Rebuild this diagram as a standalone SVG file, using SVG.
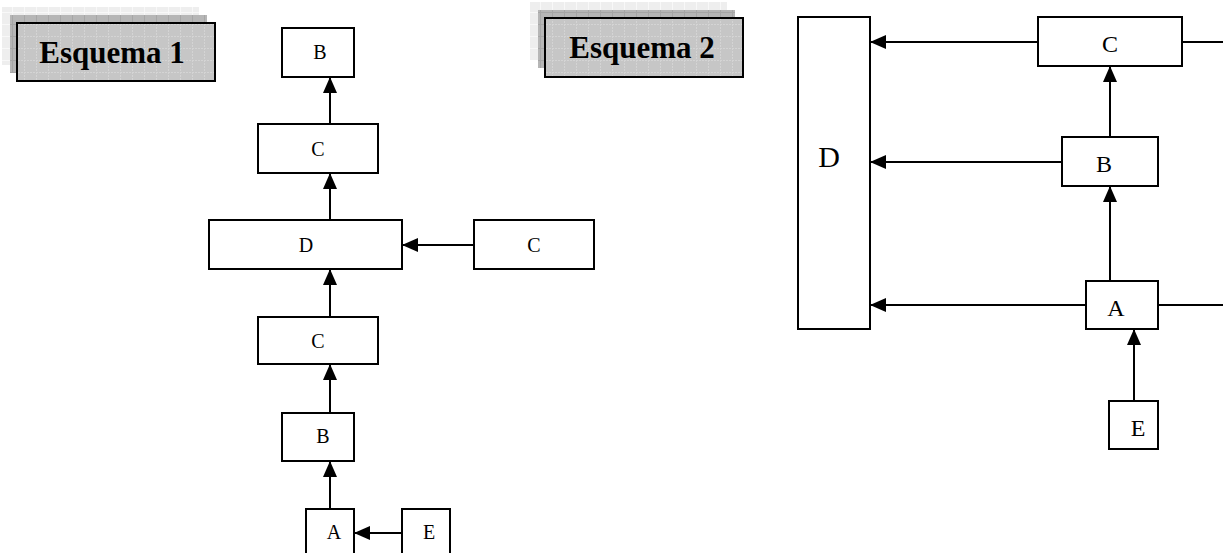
<svg xmlns="http://www.w3.org/2000/svg" width="1223" height="553" viewBox="0 0 1223 553">
<style>
.box{fill:#fff;stroke:#000;stroke-width:2}
.t1{font-family:"Liberation Serif","Times New Roman",serif;font-size:20px;text-anchor:middle;fill:#000}
.t2{font-family:"Liberation Serif","Times New Roman",serif;font-size:24px;text-anchor:middle;fill:#000}
.tD{font-family:"Liberation Serif","Times New Roman",serif;font-size:30px;text-anchor:middle;fill:#000}
.title{font-family:"Liberation Serif","Times New Roman",serif;font-size:31px;font-weight:bold;text-anchor:middle;fill:#000}
.ln{fill:none;stroke:#000;stroke-width:2}
.arr{marker-end:url(#ah)}
</style>
<defs>
<marker id="ah" markerUnits="userSpaceOnUse" markerWidth="16" markerHeight="14" refX="16" refY="7" orient="auto">
<path d="M0,0 L16,7 L0,14 z" fill="#000"/>
</marker>
<pattern id="gLight" width="12" height="12" patternUnits="userSpaceOnUse">
<rect width="12" height="12" fill="#eeeeee"/>
<path d="M0,0.5 H12 M0.5,0 V12" stroke="#f8f8f8" stroke-width="1"/>
</pattern>
<pattern id="gMid" width="12" height="12" patternUnits="userSpaceOnUse">
<rect width="12" height="12" fill="#b6b6b6"/>
<path d="M0,0.5 H12 M0.5,0 V12" stroke="#a6a6a6" stroke-width="1"/>
</pattern>
<pattern id="gFront" width="12" height="12" patternUnits="userSpaceOnUse">
<rect width="12" height="12" fill="#c6c6c6"/>
<path d="M0,0.5 H12 M0.5,0 V12" stroke="#d4d4d4" stroke-width="1" stroke-dasharray="2,1"/>
</pattern>
</defs>

<g id="title1">
<rect x="2" y="7" width="197" height="58" fill="url(#gLight)"/>
<rect x="10" y="15" width="197" height="58" fill="url(#gMid)"/>
<rect x="17" y="23" width="198" height="58" fill="url(#gFront)" stroke="#000" stroke-width="2"/>
<text class="title" x="112" y="63">Esquema 1</text>
</g>

<g id="title2">
<rect x="530" y="2" width="197" height="58" fill="url(#gLight)"/>
<rect x="538" y="10" width="197" height="58" fill="url(#gMid)"/>
<rect x="545" y="18" width="198" height="59" fill="url(#gFront)" stroke="#000" stroke-width="2"/>
<text class="title" x="642" y="58">Esquema 2</text>
</g>

<g id="connectors">
<line class="ln arr" x1="330" y1="124" x2="330" y2="77"/>
<line class="ln arr" x1="330" y1="220" x2="330" y2="173"/>
<line class="ln arr" x1="474" y1="245" x2="402" y2="245"/>
<line class="ln arr" x1="330" y1="317" x2="330" y2="269"/>
<line class="ln arr" x1="330" y1="413" x2="330" y2="364"/>
<line class="ln arr" x1="330" y1="509" x2="330" y2="461"/>
<line class="ln arr" x1="402" y1="533" x2="354" y2="533"/>

<line class="ln arr" x1="1038" y1="42" x2="870" y2="42"/>
<line class="ln" x1="1182" y1="42" x2="1223" y2="42"/>
<line class="ln arr" x1="1110" y1="137" x2="1110" y2="66"/>
<line class="ln arr" x1="1062" y1="162" x2="870" y2="162"/>
<line class="ln arr" x1="1110" y1="281" x2="1110" y2="186"/>
<line class="ln arr" x1="1086" y1="305" x2="870" y2="305"/>
<line class="ln" x1="1158" y1="305" x2="1223" y2="305"/>
<line class="ln arr" x1="1134" y1="401" x2="1134" y2="329"/>
</g>

<g id="s1-B-top"><rect class="box" x="282" y="28" width="72" height="49"/><text class="t1" x="320" y="59">B</text></g>
<g id="s1-C-top"><rect class="box" x="258" y="124" width="120" height="49"/><text class="t1" x="318" y="156">C</text></g>
<g id="s1-D"><rect class="box" x="209" y="220" width="193" height="49"/><text class="t1" x="306" y="252">D</text></g>
<g id="s1-C-right"><rect class="box" x="474" y="220" width="120" height="49"/><text class="t1" x="534" y="252">C</text></g>
<g id="s1-C-low"><rect class="box" x="258" y="317" width="120" height="47"/><text class="t1" x="318" y="348">C</text></g>
<g id="s1-B-low"><rect class="box" x="282" y="413" width="72" height="48"/><text class="t1" x="323" y="443">B</text></g>
<g id="s1-A"><rect class="box" x="306" y="509" width="48" height="60"/><text class="t1" x="334" y="539">A</text></g>
<g id="s1-E"><rect class="box" x="402" y="509" width="48" height="60"/><text class="t1" x="429" y="539">E</text></g>

<g id="s2-D"><rect class="box" x="798" y="17" width="72" height="312"/><text class="tD" x="829" y="167">D</text></g>
<g id="s2-C"><rect class="box" x="1038" y="17" width="144" height="49"/><text class="t2" x="1110" y="52">C</text></g>
<g id="s2-B"><rect class="box" x="1062" y="137" width="96" height="49"/><text class="t2" x="1104" y="172">B</text></g>
<g id="s2-A"><rect class="box" x="1086" y="281" width="72" height="48"/><text class="t2" x="1116" y="316">A</text></g>
<g id="s2-E"><rect class="box" x="1109" y="401" width="49" height="48"/><text class="t2" x="1138" y="436">E</text></g>
</svg>
